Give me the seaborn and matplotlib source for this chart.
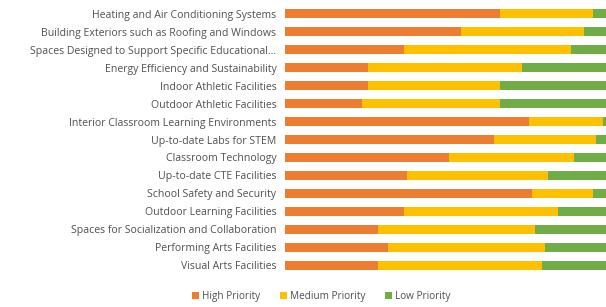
import pandas as pd
import matplotlib.pyplot as plt
import seaborn as sns
from matplotlib.patches import Patch

# facility categories, top to bottom
categories = [
    'Heating and Air Conditioning Systems',
    'Building Exteriors such as Roofing and Windows',
    'Spaces Designed to Support Specific Educational...',
    'Energy Efficiency and Sustainability',
    'Indoor Athletic Facilities',
    'Outdoor Athletic Facilities',
    'Interior Classroom Learning Environments',
    'Up-to-date Labs for STEM',
    'Classroom Technology',
    'Up-to-date CTE Facilities',
    'School Safety and Security',
    'Outdoor Learning Facilities',
    'Spaces for Socialization and Collaboration',
    'Performing Arts Facilities',
    'Visual Arts Facilities',
]
# shares in percent
high = [67, 55, 37, 26, 26, 24, 76, 65, 51, 38, 77, 37, 29, 32, 29]
medium = [29, 38, 52, 48, 41, 43, 23, 32, 39, 44, 19, 48, 49, 49, 51]
low = [4, 7, 11, 26, 33, 33, 1, 3, 10, 18, 4, 15, 22, 19, 20]

series = ['High Priority', 'Medium Priority', 'Low Priority']
colors = ['#ED7D31', '#FFC000', '#70AD47']

df = pd.DataFrame({'category': categories, 'high': high, 'medium': medium, 'low': low})
df['hm'] = df['high'] + df['medium']
df['total'] = df['hm'] + df['low']

plt.rcParams['font.family'] = ['Open Sans', 'DejaVu Sans']
fig = plt.figure(figsize=(6.06, 3.07), dpi=100)
ax = fig.add_axes([0.470, 0.107, 0.53, 0.877])

# stacked bars drawn back to front
for col, c in zip(['total', 'hm', 'high'], colors[::-1]):
    sns.barplot(data=df, y='category', x=col, color=c, orient='h',
                width=0.5, ax=ax, saturation=1)

ax.set_xlim(0, 100)
ax.set_ylim(len(categories) - 0.5, -0.5)
ax.set_xlabel('')
ax.set_ylabel('')
ax.set_xticks([])
ax.tick_params(axis='y', length=0, pad=6, labelsize=7.6, labelcolor='#505050')
for s in ax.spines.values():
    s.set_visible(False)

handles = [Patch(facecolor=c, label=s) for s, c in zip(series, colors)]
fig.legend(handles=handles, loc='center', bbox_to_anchor=(0.53, 0.033), ncol=3,
           frameon=False, fontsize=7.2, labelcolor='#505050',
           handlelength=0.7, handleheight=0.7, handletextpad=0.3, columnspacing=2.0)

fig.savefig('out.png', dpi=100)
